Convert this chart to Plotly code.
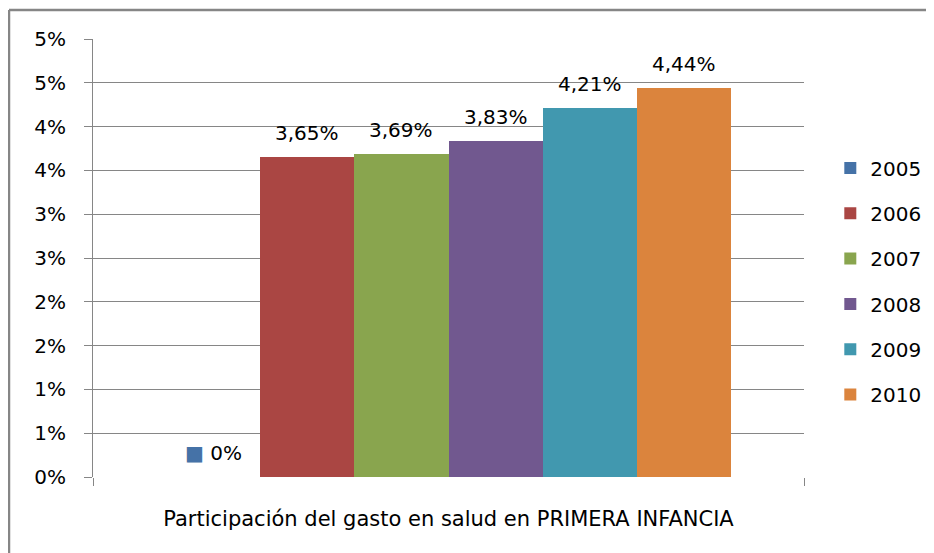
import plotly.graph_objects as go

years = ["2005", "2006", "2007", "2008", "2009", "2010"]
values = [0.0, 3.65, 3.69, 3.83, 4.21, 4.44]
labels = ["0%", "3,65%", "3,69%", "3,83%", "4,21%", "4,44%"]
colors = ["#4572A7", "#AA4643", "#89A54E", "#71588F", "#4198AF", "#DB843D"]
tick_vals = [0, 0.5, 1, 1.5, 2, 2.5, 3, 3.5, 4, 4.5, 5]
tick_text = ["0%", "1%", "1%", "2%", "2%", "3%", "3%", "4%", "4%", "5%", "5%"]
x_title = "Participación del gasto en salud en PRIMERA INFANCIA"

FONT = "DejaVu Sans"
GRID = "#868686"
X_RANGE = [-1.275, 6.275]

fig = go.Figure()
for i, (yr, v, c) in enumerate(zip(years, values, colors)):
    fig.add_trace(go.Bar(
        x=[i], y=[v], width=1, name=yr, marker=dict(color=c, line=dict(width=0)),
        legendgroup=yr, hoverinfo="skip",
    ))

annotations = []
for i, (v, lab, c) in enumerate(zip(values, labels, colors)):
    text = lab
    if v == 0:
        text = f"<span style='color:{c}'>■</span> {lab}"
    annotations.append(dict(
        x=i, y=v, xref="x", yref="y", text=text, showarrow=False,
        yanchor="bottom", yshift=10, font=dict(family=FONT, size=20, color="#000000"),
    ))

fig.update_layout(
    width=934, height=553,
    margin=dict(l=85, r=138, t=31, b=84, autoexpand=False),
    paper_bgcolor="white", plot_bgcolor="white",
    barmode="overlay", bargap=0,
    showlegend=True,
    legend=dict(
        x=1.037, xanchor="left", y=0.75, yanchor="top",
        font=dict(family=FONT, size=20, color="#000000"),
        tracegroupgap=16.3, itemwidth=30, bgcolor="rgba(0,0,0,0)",
    ),
    annotations=annotations,
)
# outer chart border (left and top edges visible in the reference)
fig.add_shape(type="line", xref="paper", yref="paper", x0=-84/711, x1=-84/711, y0=1 + 29/438, y1=-0.3,
              line=dict(color=GRID, width=2.5))
fig.add_shape(type="line", xref="paper", yref="paper", x0=-84/711, x1=1.3, y0=1 + 29/438, y1=1 + 29/438,
              line=dict(color=GRID, width=2.5))

fig.update_xaxes(
    range=X_RANGE, showticklabels=False, showgrid=False, zeroline=False,
    showline=False, ticks="outside", ticklen=8, tickcolor=GRID, tickvals=X_RANGE,
    title=dict(text=x_title, font=dict(family=FONT, size=21, color="#000000"), standoff=26),
)
fig.update_yaxes(
    range=[0, 5], tickvals=tick_vals, ticktext=tick_text,
    showgrid=True, gridcolor=GRID, gridwidth=1, zeroline=False,
    showline=True, linecolor=GRID, linewidth=1,
    ticks="outside", ticklen=8, tickcolor=GRID,
    tickfont=dict(family=FONT, size=20, color="#000000"), ticklabelstandoff=14,
)

fig.write_html("out.html")
